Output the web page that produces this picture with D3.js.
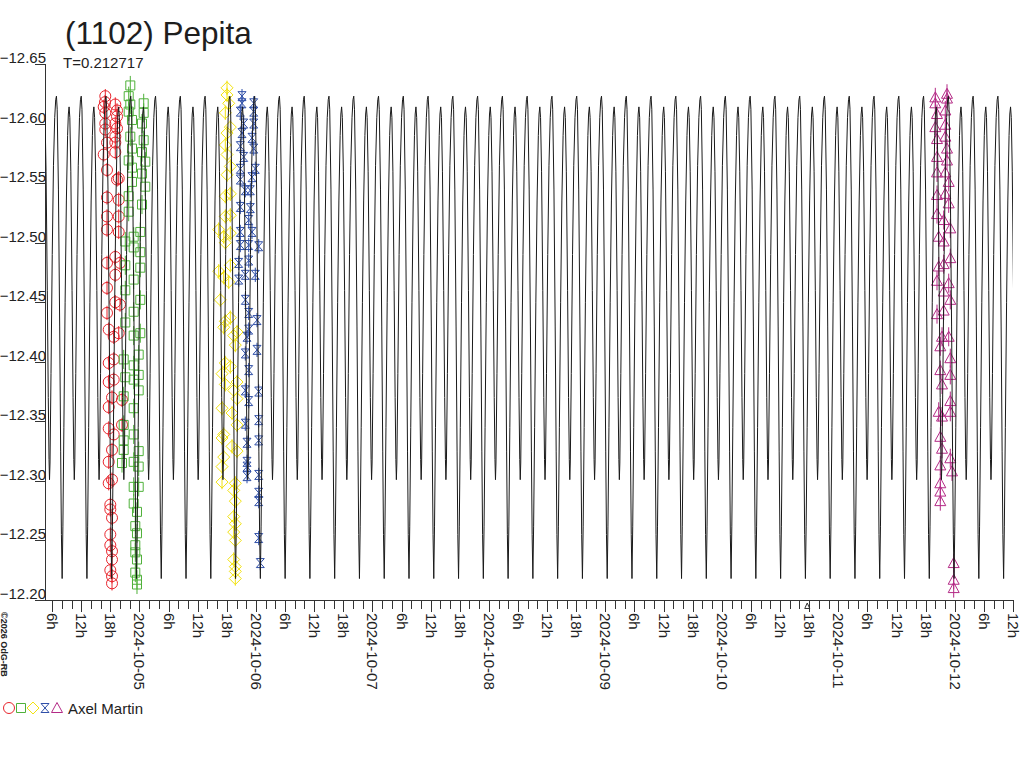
<!DOCTYPE html>
<html>
<head>
<meta charset="utf-8">
<script src="https://cdn.jsdelivr.net/npm/d3@7"></script>
<style>
body{margin:0;background:#fff;}
svg{display:block;font-family:"Liberation Sans",Arial,sans-serif;}
</style>
</head>
<body>
<div id="plot"></div>
<script>
var title = '(1102) Pepita',
	periodLabel = 'T=0.212717',
	observer = 'Axel Martin',
	copyright = '\u00a92026 OdG-RB';

// times are hours after 2024-10-04 00:00 UT
var startHour = 4.533, endHour = 204;
var periodDays = 0.212717;
var epochHour = 79.54; // a deep minimum of the fitted curve

// one cycle of the fitted curve
var curvePhase = [0.00,0.03,0.07,0.12,0.17,0.22,0.25,0.28,0.31,0.35,0.40,0.44,0.47,0.49,0.51,0.55,0.60,0.65,0.70,0.74,0.77,0.80,0.85,0.90,0.94,0.97,1.00];
var curveMag = [-12.218,-12.262,-12.345,-12.450,-12.535,-12.590,-12.608,-12.614,-12.605,-12.560,-12.460,-12.370,-12.318,-12.301,-12.315,-12.390,-12.490,-12.565,-12.605,-12.620,-12.623,-12.612,-12.545,-12.430,-12.325,-12.255,-12.218];

var magTicks = [-12.65,-12.60,-12.55,-12.50,-12.45,-12.40,-12.35,-12.30,-12.25,-12.20];
var eventMarks = [161.6];

// [hour, mag]
var session1 = [[16.96,-12.623],[16.90,-12.618],[16.63,-12.614],[19.02,-12.616],[19.37,-12.611],[16.96,-12.609],[19.37,-12.606],[16.96,-12.600],[19.02,-12.600],[16.96,-12.595],[19.37,-12.596],[19.02,-12.589],[17.31,-12.584],[19.02,-12.584],[16.63,-12.574],[19.02,-12.576],[17.31,-12.561],[19.72,-12.554],[19.37,-12.553],[17.31,-12.538],[19.72,-12.536],[17.31,-12.522],[19.72,-12.522],[17.31,-12.511],[19.72,-12.509],[19.02,-12.488],[17.31,-12.483],[19.99,-12.483],[19.02,-12.473],[17.31,-12.462],[19.02,-12.450],[19.99,-12.448],[17.31,-12.441],[17.66,-12.427],[19.72,-12.424],[18.69,-12.421],[17.66,-12.399],[18.69,-12.402],[17.66,-12.383],[18.69,-12.385],[18.34,-12.370],[17.66,-12.362],[20.40,-12.368],[17.66,-12.344],[18.69,-12.339],[20.40,-12.347],[18.34,-12.326],[17.66,-12.316],[18.34,-12.301],[17.66,-12.298],[17.99,-12.280],[17.99,-12.276],[18.34,-12.269],[17.99,-12.255],[17.99,-12.246],[18.34,-12.241],[18.34,-12.234],[17.99,-12.225],[18.34,-12.220],[18.34,-12.214]];
var session2 = [[22.11,-12.632],[21.78,-12.623],[22.11,-12.616],[24.87,-12.617],[21.78,-12.610],[24.87,-12.609],[22.46,-12.603],[24.52,-12.600],[22.11,-12.589],[24.87,-12.586],[22.46,-12.579],[24.52,-12.576],[21.78,-12.569],[25.20,-12.568],[22.46,-12.563],[24.52,-12.558],[22.46,-12.551],[25.20,-12.547],[21.78,-12.539],[24.52,-12.532],[21.78,-12.526],[24.17,-12.509],[22.81,-12.505],[21.08,-12.501],[22.81,-12.496],[24.17,-12.492],[21.08,-12.481],[24.17,-12.479],[22.81,-12.469],[21.08,-12.460],[24.17,-12.452],[22.81,-12.442],[21.08,-12.433],[24.17,-12.424],[22.81,-12.422],[20.75,-12.402],[23.84,-12.406],[22.81,-12.397],[23.84,-12.389],[21.08,-12.387],[22.81,-12.385],[23.84,-12.376],[20.75,-12.371],[22.81,-12.361],[20.75,-12.347],[22.81,-12.339],[20.75,-12.334],[20.75,-12.326],[23.84,-12.325],[22.81,-12.316],[23.84,-12.312],[20.40,-12.315],[22.81,-12.295],[23.84,-12.295],[22.81,-12.281],[23.49,-12.274],[23.14,-12.262],[23.49,-12.256],[23.14,-12.246],[23.14,-12.240],[23.49,-12.234],[23.14,-12.223],[23.49,-12.217],[23.49,-12.213]];
var session3 = [[42.04,-12.630],[42.04,-12.624],[42.39,-12.617],[41.69,-12.609],[42.72,-12.597],[42.04,-12.592],[41.69,-12.582],[42.04,-12.574],[42.72,-12.564],[42.04,-12.557],[41.69,-12.539],[42.72,-12.541],[41.69,-12.522],[42.72,-12.523],[40.33,-12.511],[41.36,-12.505],[42.72,-12.508],[41.69,-12.500],[42.72,-12.481],[40.33,-12.476],[41.36,-12.471],[42.39,-12.467],[40.66,-12.452],[41.69,-12.434],[42.72,-12.437],[41.36,-12.429],[44.10,-12.425],[43.42,-12.422],[43.75,-12.414],[41.69,-12.399],[41.01,-12.390],[42.72,-12.396],[41.69,-12.381],[44.10,-12.383],[43.42,-12.376],[44.10,-12.369],[41.01,-12.361],[43.07,-12.357],[44.10,-12.347],[41.36,-12.339],[41.01,-12.336],[43.07,-12.329],[44.10,-12.325],[41.36,-12.320],[41.01,-12.312],[41.01,-12.299],[43.75,-12.298],[43.42,-12.292],[43.75,-12.283],[43.42,-12.270],[43.75,-12.264],[43.42,-12.257],[43.75,-12.250],[43.42,-12.234],[43.75,-12.228],[43.75,-12.224],[43.75,-12.218]];
var session4 = [[45.13,-12.623],[45.13,-12.617],[47.54,-12.617],[44.78,-12.610],[47.54,-12.610],[45.48,-12.600],[47.54,-12.600],[45.13,-12.592],[47.19,-12.588],[44.78,-12.581],[47.54,-12.579],[45.48,-12.572],[44.78,-12.562],[47.87,-12.562],[47.19,-12.555],[44.78,-12.553],[45.81,-12.544],[46.84,-12.544],[44.78,-12.530],[46.84,-12.529],[46.51,-12.519],[44.78,-12.509],[47.19,-12.509],[44.78,-12.498],[46.51,-12.498],[48.57,-12.497],[44.45,-12.483],[46.51,-12.485],[45.81,-12.473],[47.87,-12.473],[44.45,-12.469],[45.81,-12.452],[46.51,-12.441],[48.22,-12.435],[46.51,-12.427],[46.16,-12.421],[48.22,-12.410],[45.81,-12.407],[46.51,-12.393],[45.81,-12.376],[48.57,-12.375],[46.51,-12.367],[45.81,-12.348],[48.57,-12.351],[46.16,-12.332],[48.57,-12.334],[46.16,-12.316],[46.16,-12.312],[46.16,-12.304],[48.57,-12.305],[48.57,-12.290],[48.57,-12.283],[48.57,-12.252],[48.90,-12.231]];
var session5 = [[187.99,-12.622],[187.99,-12.617],[190.40,-12.625],[190.40,-12.621],[188.34,-12.608],[190.05,-12.611],[187.99,-12.597],[190.05,-12.599],[188.34,-12.587],[190.05,-12.589],[190.40,-12.579],[188.34,-12.572],[190.40,-12.569],[190.05,-12.559],[188.34,-12.559],[190.75,-12.551],[188.34,-12.540],[190.05,-12.541],[190.75,-12.533],[188.34,-12.524],[189.72,-12.519],[191.08,-12.512],[188.69,-12.505],[189.72,-12.501],[191.08,-12.487],[188.69,-12.480],[189.72,-12.482],[188.34,-12.468],[190.75,-12.466],[189.72,-12.459],[191.08,-12.452],[188.34,-12.440],[189.72,-12.443],[189.37,-12.421],[190.75,-12.421],[189.02,-12.413],[191.08,-12.403],[189.02,-12.393],[191.08,-12.389],[189.37,-12.381],[191.08,-12.367],[188.69,-12.358],[191.08,-12.358],[189.37,-12.354],[189.02,-12.337],[189.37,-12.327],[191.08,-12.319],[189.02,-12.313],[191.43,-12.308],[189.02,-12.298],[189.02,-12.291],[189.02,-12.283],[191.78,-12.231],[191.78,-12.217],[191.78,-12.210]];

var sessionColors = ['#e8242c','#4fb13a','#f2e20e','#2f4fa8','#b42a86'];
var sessionErrors = [0.006,0.008,0.006,0.006,0.008];

var shapes = [
	'M5.5,0A5.5,5.5,0,1,1,-5.5,0A5.5,5.5,0,1,1,5.5,0Z',
	'M-4.5,-4.5H4.5V4.5H-4.5Z',
	'M0,-6L6,0L0,6L-6,0Z',
	'M-4,-4.5H4L-4,4.5H4Z',
	'M0,-5.5L5.5,4.5H-5.5Z'
];

var m = {t:64,r:11,b:168,l:45},
	W = 1024, H = 768;

var base = Date.UTC(2024,9,4);
function hourDate(h){ return new Date(base + h*3600000); }

var x = d3.scaleUtc()
	.domain([hourDate(startHour),hourDate(endHour)])
	.range([m.l,W-m.r]);
var y = d3.scaleLinear()
	.domain([-12.65,-12.20])
	.range([m.t,H-m.b]);

var svg = d3.select('#plot').append('svg')
	.attr('width',W)
	.attr('height',H);

svg.append('defs').append('clipPath').attr('id','clip')
	.append('rect').attr('x',m.l).attr('y',0).attr('width',W-m.r-m.l).attr('height',H);

//titles
svg.append('text').attr('x',65).attr('y',44)
	.style('font-size','31.5px').style('fill','#1e1e1e')
	.text(title);
svg.append('text').attr('x',63).attr('y',68)
	.style('font-size','15px').style('fill','#222')
	.text(periodLabel);

//y axis
var yAxis = svg.append('g').attr('class','y-axis');
yAxis.append('line')
	.attr('x1',m.l+0.5).attr('x2',m.l+0.5)
	.attr('y1',y(-12.65)).attr('y2',y(-12.20))
	.style('stroke','#333').style('shape-rendering','crispEdges');
yAxis.selectAll('.tick').data(magTicks).enter().append('g')
	.attr('class','tick')
	.each(function(d){
		var g = d3.select(this);
		g.append('line')
			.attr('x1',m.l-10).attr('x2',m.l+0.5)
			.attr('y1',Math.round(y(d))+0.5).attr('y2',Math.round(y(d))+0.5)
			.style('stroke','#333').style('shape-rendering','crispEdges');
		g.append('text')
			.attr('x',m.l+1).attr('y',y(d)-1)
			.attr('text-anchor','end')
			.style('font-size','15px').style('fill','#222')
			.text(d3.format('.2f')(d));
	});

//x axis
var xAxis = svg.append('g').attr('class','x-axis');
var x0 = H-m.b;
xAxis.append('line')
	.attr('x1',m.l).attr('x2',W-m.r)
	.attr('y1',x0+0.5).attr('y2',x0+0.5)
	.style('stroke','#333').style('shape-rendering','crispEdges');
var ticks = x.ticks(d3.utcHour.every(2));
xAxis.selectAll('.tick').data(ticks).enter().append('g')
	.attr('class','tick')
	.each(function(d){
		var g = d3.select(this),
			hr = d.getUTCHours(),
			px = Math.round(x(d))+0.5;
		g.append('line')
			.attr('x1',px).attr('x2',px)
			.attr('y1',x0).attr('y2',x0+(hr%6==0?12:9))
			.style('stroke','#333').style('shape-rendering','crispEdges');
		if(hr%6==0){
			g.append('text')
				.attr('transform','translate('+px+','+(x0+13)+') rotate(90)')
				.attr('dy','0.35em')
				.style('font-size','15px').style('fill','#222')
				.text(hr==0 ? d3.utcFormat('%Y-%m-%d')(d) : hr+'h');
		}
	});
xAxis.selectAll('.event').data(eventMarks).enter().append('path')
	.attr('d','M0,-3L2.5,2.5H-2.5Z')
	.attr('transform',function(d){ return 'translate('+x(hourDate(d))+','+(x0+6)+')'; })
	.style('fill','none').style('stroke','#333');

//observations
var sessions = [session1,session2,session3,session4,session5];
var obs = svg.append('g').attr('clip-path','url(#clip)');
sessions.forEach(function(s,i){
	var g = obs.append('g').attr('class','session-'+(i+1));
	g.selectAll('.err').data(s).enter().append('line')
		.attr('x1',function(d){ return x(hourDate(d[0])); })
		.attr('x2',function(d){ return x(hourDate(d[0])); })
		.attr('y1',function(d){ return y(d[1]-sessionErrors[i]); })
		.attr('y2',function(d){ return y(d[1]+sessionErrors[i]); })
		.style('stroke',sessionColors[i]).style('stroke-width',1);
	g.selectAll('.pt').data(s).enter().append('path')
		.attr('d',shapes[i])
		.attr('transform',function(d){ return 'translate('+x(hourDate(d[0]))+','+y(d[1])+')'; })
		.style('fill','none').style('stroke',sessionColors[i]).style('stroke-width',1);
});

//fitted curve, same cycle repeated every period
var periodHours = periodDays*24;
var curve = [];
var kStart = Math.floor((startHour-epochHour)/periodHours)-1,
	kEnd = Math.ceil((endHour-epochHour)/periodHours)+1;
for(var k=kStart;k<=kEnd;k++){
	curvePhase.forEach(function(p,j){
		if(j==curvePhase.length-1) return;
		curve.push([epochHour+(k+p)*periodHours, curveMag[j]]);
	});
}
var line = d3.line()
	.x(function(d){ return x(hourDate(d[0])); })
	.y(function(d){ return y(d[1]); });
svg.append('path')
	.datum(curve)
	.attr('clip-path','url(#clip)')
	.attr('d',line)
	.style('fill','none').style('stroke','#1a1a1a').style('stroke-width',1);

//legend
var legend = svg.append('g').attr('transform','translate(0,708)');
[9,21,33,45,57].forEach(function(lx,i){
	legend.append('path').attr('d',shapes[i])
		.attr('transform','translate('+lx+',0)')
		.style('fill','none').style('stroke',sessionColors[i]);
});
legend.append('text').attr('x',68).attr('y',6)
	.style('font-size','15px').style('fill','#222')
	.text(observer);

//copyright
svg.append('text')
	.attr('transform','translate(4,612) rotate(90)')
	.attr('dy','0.35em')
	.style('font-size','9px').style('font-weight','bold').style('fill','#222')
	.text(copyright);
</script>
</body>
</html>
